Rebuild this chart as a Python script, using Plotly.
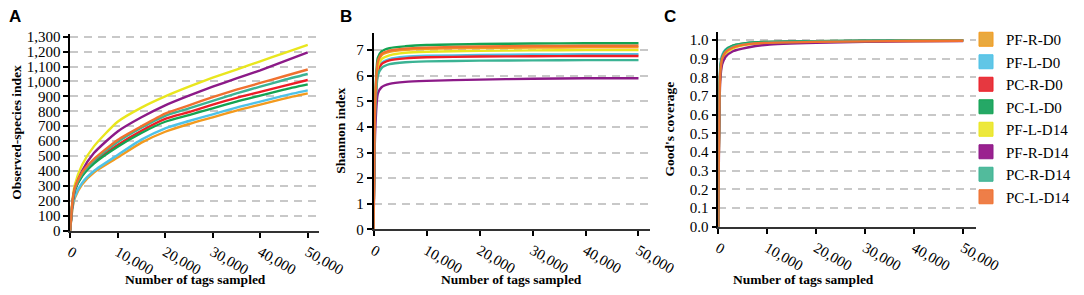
import plotly.graph_objects as go

# figure is drawn inside the page's 8px body margin; design in target-page pixels
FW, FH = 1068, 279
OFF = 8

samples = ["PF-R-D0", "PF-L-D0", "PC-R-D0", "PC-L-D0", "PF-L-D14", "PF-R-D14", "PC-R-D14", "PC-L-D14"]
line_colors = ["#F39A1E", "#4EC2E8", "#EE1D26", "#13A352", "#E9E61E", "#8C1A88", "#3BB394", "#F0712F"]
legend_colors = ["#E9A93E", "#61C6E6", "#E63840", "#25A866", "#EDE83C", "#9A218F", "#52BB9C", "#EE7E48"]

# Panel A: observed species
obs_x = [0, 500, 1000, 2500, 5000, 10000, 15000, 20000, 25000, 30000, 35000, 40000, 45000, 50000]
obs_PF_R_D0 = [0, 150, 220, 310, 390, 490, 590, 663, 715, 760, 805, 845, 885, 920]
obs_PF_L_D0 = [0, 160, 230, 320, 400, 507, 610, 686, 735, 780, 825, 865, 905, 940]
obs_PC_R_D0 = [0, 190, 275, 370, 460, 575, 670, 750, 795, 845, 890, 930, 970, 1010]
obs_PC_L_D0 = [0, 185, 270, 365, 450, 563, 655, 730, 775, 820, 865, 905, 945, 980]
obs_PF_L_D14 = [0, 210, 310, 440, 565, 730, 825, 900, 965, 1025, 1080, 1135, 1190, 1245]
obs_PF_R_D14 = [0, 190, 280, 400, 520, 665, 760, 840, 905, 965, 1020, 1075, 1135, 1195]
obs_PC_R_D14 = [0, 195, 280, 380, 470, 595, 690, 770, 820, 870, 920, 965, 1010, 1050]
obs_PC_L_D14 = [0, 200, 290, 390, 480, 608, 700, 785, 840, 895, 945, 990, 1035, 1080]
obs_all = [obs_PF_R_D0, obs_PF_L_D0, obs_PC_R_D0, obs_PC_L_D0, obs_PF_L_D14, obs_PF_R_D14, obs_PC_R_D14, obs_PC_L_D14]

# Panel B: Shannon
sh_x = [0, 300, 800, 1500, 3000, 6000, 10000, 20000, 30000, 40000, 50000]
sh_PF_R_D0 = [0, 4.8, 6.5, 6.8, 6.93, 7.01, 7.05, 7.08, 7.10, 7.11, 7.11]
sh_PF_L_D0 = [0, 4.6, 6.2, 6.5, 6.65, 6.74, 6.78, 6.81, 6.83, 6.84, 6.84]
sh_PC_R_D0 = [0, 4.6, 6.15, 6.45, 6.60, 6.68, 6.72, 6.75, 6.76, 6.77, 6.77]
sh_PC_L_D0 = [0, 5.0, 6.7, 6.95, 7.08, 7.15, 7.20, 7.24, 7.26, 7.27, 7.27]
sh_PF_L_D14 = [0, 4.7, 6.35, 6.65, 6.80, 6.90, 6.94, 6.97, 6.99, 7.00, 7.00]
sh_PF_R_D14 = [0, 3.8, 5.3, 5.55, 5.68, 5.76, 5.80, 5.85, 5.88, 5.90, 5.90]
sh_PC_R_D14 = [0, 4.5, 6.0, 6.3, 6.45, 6.53, 6.56, 6.59, 6.60, 6.61, 6.61]
sh_PC_L_D14 = [0, 4.9, 6.55, 6.85, 6.98, 7.06, 7.10, 7.14, 7.16, 7.17, 7.17]
sh_all = [sh_PF_R_D0, sh_PF_L_D0, sh_PC_R_D0, sh_PC_L_D0, sh_PF_L_D14, sh_PF_R_D14, sh_PC_R_D14, sh_PC_L_D14]

# Panel C: Good's coverage
cov_x = [0, 400, 800, 1500, 3000, 6000, 10000, 20000, 30000, 40000, 50000]
cov_PF_R_D0 = [0, 0.85, 0.915, 0.948, 0.970, 0.985, 0.990, 0.994, 0.996, 0.997, 0.998]
cov_PF_L_D0 = [0, 0.86, 0.920, 0.950, 0.970, 0.985, 0.990, 0.994, 0.996, 0.997, 0.998]
cov_PC_R_D0 = [0, 0.83, 0.905, 0.940, 0.963, 0.980, 0.987, 0.992, 0.995, 0.996, 0.997]
cov_PC_L_D0 = [0, 0.84, 0.910, 0.945, 0.970, 0.985, 0.990, 0.994, 0.996, 0.997, 0.998]
cov_PF_L_D14 = [0, 0.80, 0.880, 0.925, 0.955, 0.975, 0.983, 0.990, 0.993, 0.995, 0.996]
cov_PF_R_D14 = [0, 0.78, 0.870, 0.910, 0.940, 0.960, 0.975, 0.985, 0.990, 0.993, 0.995]
cov_PC_R_D14 = [0, 0.83, 0.905, 0.940, 0.965, 0.980, 0.987, 0.992, 0.995, 0.996, 0.997]
cov_PC_L_D14 = [0, 0.82, 0.900, 0.935, 0.960, 0.978, 0.985, 0.990, 0.993, 0.995, 0.996]
cov_all = [cov_PF_R_D0, cov_PF_L_D0, cov_PC_R_D0, cov_PC_L_D0, cov_PF_L_D14, cov_PF_R_D14, cov_PC_R_D14, cov_PC_L_D14]

x_ticks = [0, 10000, 20000, 30000, 40000, 50000]

fig = go.Figure()
panels = [("x", "y", obs_x, obs_all), ("x2", "y2", sh_x, sh_all), ("x3", "y3", cov_x, cov_all)]
for xa, ya, xs, series in panels:
    for name, col, ys in zip(samples, line_colors, series):
        fig.add_trace(go.Scatter(x=xs, y=ys, mode="lines", name=name, showlegend=False,
                                 line=dict(color=col, width=2.4, shape="spline", smoothing=0.6),
                                 xaxis=xa, yaxis=ya, hoverinfo="skip"))

for i, (name, col) in enumerate(zip(samples, legend_colors)):
    fig.add_trace(go.Scatter(x=[None], y=[None], mode="markers", name=name,
                             marker=dict(symbol="square", size=14, color=col,
                                         line=dict(color=line_colors[i], width=1)),
                             xaxis="x3", yaxis="y3"))

def px_x(p):
    return (p - OFF) / FW

def px_y(p):
    return 1 - (p - OFF) / FH

serif = "Liberation Serif, Times New Roman, serif"
tickfont = dict(family=serif, size=15, color="black")

def xaxis(dom, rng, anchor):
    return dict(domain=dom, range=rng, anchor=anchor, tickvals=x_ticks, tickformat=",d",
                tickangle=30, ticks="outside", ticklen=5, tickwidth=1.5, tickcolor="black",
                showline=True, linecolor="#333", linewidth=2, showgrid=False, zeroline=False,
                tickfont=tickfont, automargin=False)

def yaxis(dom, rng, anchor, dtick, fmt):
    return dict(domain=dom, range=rng, anchor=anchor, dtick=dtick, tick0=0, tickformat=fmt,
                ticks="outside", ticklen=5, tickwidth=1.5, tickcolor="black",
                showline=True, linecolor="black", linewidth=1.5, showgrid=True,
                gridcolor="#c8c8c8", gridwidth=1.5, griddash="8px,6px", zeroline=False,
                tickfont=tickfont, automargin=False)

fig.update_layout(
    template="none",
    width=FW, height=FH, margin=dict(l=0, r=0, t=0, b=0, pad=0),
    paper_bgcolor="white", plot_bgcolor="white",
    xaxis=xaxis([px_x(71.7), px_x(327)], [0, 52420], "y"),
    yaxis=yaxis([px_y(230.7), px_y(34)], [0, 1318], "x", 100, ",d"),
    xaxis2=xaxis([px_x(382.7), px_x(666)], [0, 52170], "y2"),
    yaxis2=yaxis([px_y(229.3), px_y(33)], [0, 7.67], "x2", 1, "d"),
    xaxis3=xaxis([px_x(736), px_x(1000)], [0, 52590], "y3"),
    yaxis3=yaxis([px_y(226.7), px_y(32)], [0, 1.043], "x3", 0.1, ".1f"),
    showlegend=True,
    legend=dict(x=px_x(990), y=px_y(23), xanchor="left", yanchor="top",
                font=dict(family=serif, size=15, color="black"),
                itemsizing="trace", bgcolor="rgba(0,0,0,0)", borderwidth=0),
)

for t, x, y in [("A", 15, 17), ("B", 354, 17), ("C", 687, 17)]:
    fig.add_annotation(text="<b>" + t + "</b>", x=px_x(x), y=px_y(y), xref="paper", yref="paper",
                       showarrow=False, font=dict(family="Liberation Sans, Arial", size=17, color="black"),
                       xanchor="center", yanchor="middle")

titlefont = dict(family=serif, size=13.5, color="black")
for t, x, y in [("Number of tags sampled", 200, 279), ("Number of tags sampled", 524, 279),
                ("Number of tags sampled", 823, 279)]:
    fig.add_annotation(text="<b>" + t + "</b>", x=px_x(x), y=px_y(y), xref="paper", yref="paper",
                       showarrow=False, font=titlefont, xanchor="center", yanchor="middle")
for t, x, y in [("Observed-species index", 16, 132), ("Shannon index", 348, 131),
                ("Good's coverage", 686, 129)]:
    fig.add_annotation(text="<b>" + t + "</b>", x=px_x(x), y=px_y(y), xref="paper", yref="paper",
                       showarrow=False, font=titlefont, textangle=-90,
                       xanchor="center", yanchor="middle")

fig.write_html("out.html")
